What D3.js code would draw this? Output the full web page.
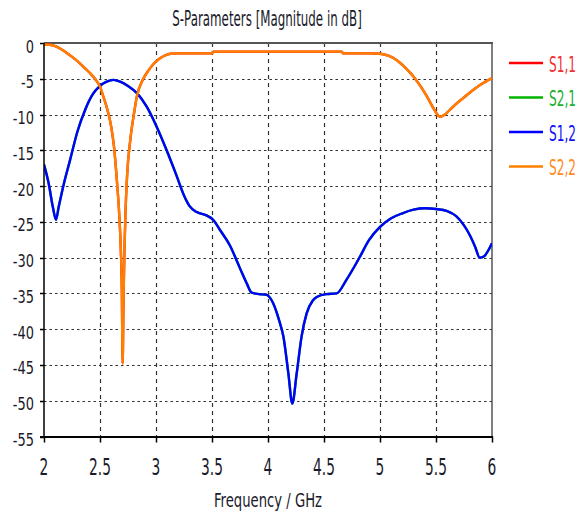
<!DOCTYPE html>
<html><head><meta charset="utf-8">
<script src="https://cdn.jsdelivr.net/npm/d3@7/dist/d3.min.js"></script>
<style>
html,body{margin:0;padding:0;background:#fff;}
svg{display:block;}
text{font-family:"DejaVu Sans",sans-serif;}
</style></head>
<body>
<script>
// ---- data ----
const title = "S-Parameters [Magnitude in dB]";
const xTitle = "Frequency / GHz";
const xTicks = [2, 2.5, 3, 3.5, 4, 4.5, 5, 5.5, 6];
const xTickLabels = ["2", "2.5", "3", "3.5", "4", "4.5", "5", "5.5", "6"];
const yTicks = [0, -5, -10, -15, -20, -25, -30, -35, -40, -45, -50, -55];
const yTickLabels = ["0", "-5", "-10", "-15", "-20", "-25", "-30", "-35", "-40", "-45", "-50", "-55"];
const seriesNames = ["S1,1", "S2,1", "S1,2", "S2,2"];
const seriesColors = ["#ff0000", "#00b400", "#0000ff", "#ff8000"];
const legendTextColors = ["#f03030", "#20b030", "#1010f0", "#ff8a20"];

const s22Freq = [2.0, 2.05, 2.1, 2.15, 2.2, 2.28, 2.35, 2.41, 2.455, 2.5, 2.53, 2.574, 2.6, 2.625, 2.65, 2.67, 2.685, 2.695, 2.702, 2.71, 2.718, 2.728, 2.742, 2.77, 2.8, 2.83, 2.88, 2.93, 2.98, 3.03, 3.08, 3.13, 3.2, 3.5, 3.51, 4.0, 4.66, 4.67, 4.9, 5.0, 5.08, 5.15, 5.23, 5.30, 5.36, 5.42, 5.48, 5.536, 5.58, 5.62, 5.68, 5.75, 5.82, 5.9, 6.0];
const s22dB   = [-0.2, -0.25, -0.45, -0.85, -1.35, -2.3, -3.3, -4.2, -5.0, -6.1, -7.5, -9.8, -11.7, -14.5, -19.1, -23.5, -28.5, -34.5, -44.8, -36, -29, -23.5, -18.5, -13.6, -10.2, -7.4, -5.2, -3.9, -2.9, -2.2, -1.75, -1.5, -1.45, -1.45, -1.2, -1.2, -1.2, -1.45, -1.45, -1.5, -1.8, -2.4, -3.5, -4.7, -6.0, -7.5, -9.2, -10.3, -10.0, -9.4, -8.5, -7.6, -6.7, -5.8, -4.9];

const s12Freq = [2.0, 2.04, 2.08, 2.107, 2.13, 2.18, 2.232, 2.3, 2.366, 2.43, 2.5, 2.56, 2.62, 2.68, 2.75, 2.83, 2.917, 3.006, 3.095, 3.185, 3.25, 3.30, 3.36, 3.45, 3.51, 3.57, 3.66, 3.75, 3.81, 3.854, 3.92, 3.988, 4.047, 4.10, 4.137, 4.182, 4.217, 4.256, 4.30, 4.345, 4.40, 4.435, 4.52, 4.613, 4.70, 4.82, 4.9, 5.0, 5.1, 5.2, 5.3, 5.4, 5.5, 5.6, 5.68, 5.75, 5.80, 5.85, 5.89, 5.93, 5.97, 6.0];
const s12dB   = [-17.0, -19.5, -23.0, -24.7, -23.0, -19.5, -16.4, -12.3, -9.4, -7.3, -6.0, -5.4, -5.15, -5.4, -6.0, -7.0, -8.9, -11.7, -15.0, -18.6, -21.3, -22.8, -23.6, -24.1, -24.7, -26.1, -28.3, -31.5, -33.6, -34.9, -35.1, -35.2, -36.4, -38.8, -41.0, -46.2, -50.4, -46.2, -41.0, -37.8, -36.0, -35.5, -35.1, -35.0, -33.1, -29.9, -27.6, -25.7, -24.5, -23.8, -23.3, -23.1, -23.2, -23.5, -24.2, -25.5, -26.8, -28.5, -30.0, -29.8, -28.9, -28.0];

// S1,1 and S2,1 lie exactly beneath S2,2 and S1,2 (symmetric network)
const s11Freq = s22Freq, s11dB = s22dB;
const s21Freq = s12Freq, s21dB = s12dB;

// ---- layout ----
const W = 579, H = 514;
const L = 44, R = 492, T = 43, B = 436.5;
const svg = d3.select("body").append("svg").attr("width", W).attr("height", H);
const x = d3.scaleLinear().domain([2, 6]).range([L, R]);
const y = d3.scaleLinear().domain([0, -55]).range([T, B]);

// grid
const g = svg.append("g");
g.selectAll(".vg").data(xTicks.slice(1, -1)).enter().append("line")
  .attr("x1", d => Math.round(x(d)) + 0.5).attr("x2", d => Math.round(x(d)) + 0.5)
  .attr("y1", T).attr("y2", B)
  .attr("stroke", "#333").attr("stroke-width", 1.2).attr("stroke-dasharray", "4,4");
g.selectAll(".hg").data(yTicks.slice(1, -1)).enter().append("line")
  .attr("x1", L).attr("x2", R)
  .attr("y1", d => Math.round(y(d)) + 0.5).attr("y2", d => Math.round(y(d)) + 0.5)
  .attr("stroke", "#333").attr("stroke-width", 1.2).attr("stroke-dasharray", "2.5,3");

// frame
svg.append("line").attr("x1", L).attr("x2", R + 1).attr("y1", T).attr("y2", T).attr("stroke", "#555").attr("stroke-width", 2);
svg.append("line").attr("x1", R).attr("x2", R).attr("y1", T).attr("y2", B).attr("stroke", "#555").attr("stroke-width", 1.5);

// curves
const line = d3.line().x(d => x(d[0])).y(d => y(d[1])).curve(d3.curveMonotoneX);
const series = [
  d3.zip(s11Freq, s11dB), d3.zip(s21Freq, s21dB), d3.zip(s12Freq, s12dB), d3.zip(s22Freq, s22dB)
];
svg.append("clipPath").attr("id", "c").append("rect").attr("x", L).attr("y", T - 2).attr("width", R - L).attr("height", B - T + 2);
svg.append("g").attr("clip-path", "url(#c)").selectAll("path").data(series).enter().append("path")
  .attr("d", line).attr("fill", "none")
  .attr("stroke", (d, i) => seriesColors[i]).attr("stroke-width", 2.4)
  .attr("stroke-linejoin", "round");

// axes
svg.append("line").attr("x1", L).attr("x2", L).attr("y1", T).attr("y2", B + 1).attr("stroke", "#000").attr("stroke-width", 1.5);
svg.append("line").attr("x1", L - 4).attr("x2", R + 1).attr("y1", B + 0.5).attr("y2", B + 0.5).attr("stroke", "#000").attr("stroke-width", 2);
svg.selectAll(".yt").data(yTicks).enter().append("line")
  .attr("x1", L - 4).attr("x2", L).attr("y1", d => Math.round(y(d)) + 0.5).attr("y2", d => Math.round(y(d)) + 0.5)
  .attr("stroke", "#000").attr("stroke-width", 1.5);
svg.selectAll(".xt").data(xTicks).enter().append("line")
  .attr("x1", d => Math.round(x(d)) + 0.5).attr("x2", d => Math.round(x(d)) + 0.5).attr("y1", B).attr("y2", B + 6)
  .attr("stroke", "#000").attr("stroke-width", 1.5);

// tick labels
svg.selectAll(".yl").data(yTicks).enter().append("text")
  .attr("transform", d => `translate(34,${y(d) + 9.5}) scale(0.72,1)`)
  .attr("text-anchor", "end").attr("font-size", 18).attr("fill", "#1a1a2a")
  .text((d, i) => yTickLabels[i]);
svg.selectAll(".xl").data(xTicks).enter().append("text")
  .attr("transform", d => `translate(${x(d)},475) scale(0.6,1)`)
  .attr("text-anchor", "middle").attr("font-size", 23).attr("fill", "#1a1a2a")
  .text((d, i) => xTickLabels[i]);

// titles
svg.append("text").attr("transform", "translate(267,26) scale(0.565,1)").attr("text-anchor", "middle")
  .attr("font-size", 21).attr("fill", "#1a1a2a").text(title);
svg.append("text").attr("transform", "translate(268,507) scale(0.66,1)").attr("text-anchor", "middle")
  .attr("font-size", 20).attr("fill", "#1a1a2a").text(xTitle);

// legend
const lg = svg.append("g");
seriesNames.forEach((n, i) => {
  const ly = 63 + i * 34.5;
  lg.append("line").attr("x1", 509).attr("x2", 543).attr("y1", ly).attr("y2", ly)
    .attr("stroke", seriesColors[i]).attr("stroke-width", 2.5);
  lg.append("text").attr("transform", `translate(549,${ly + 8.5}) scale(0.58,1)`).attr("font-size", 21)
    .attr("fill", legendTextColors[i]).text(n);
});
</script>
</body></html>
